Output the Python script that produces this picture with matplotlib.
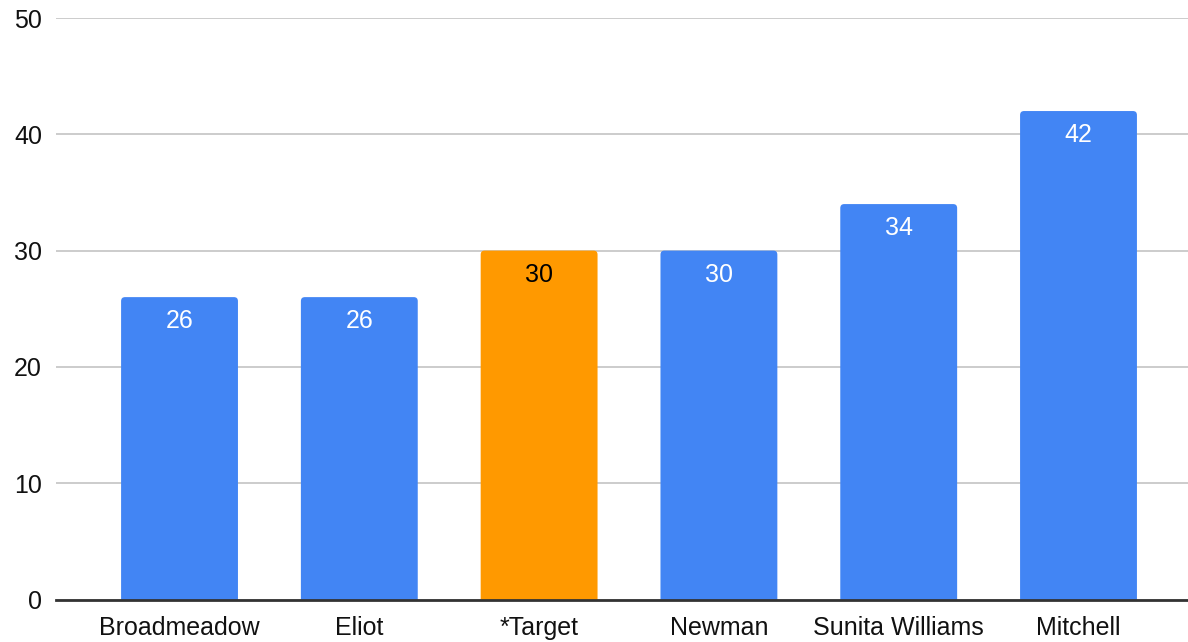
import matplotlib.pyplot as plt
from matplotlib.patches import FancyBboxPatch

# data
schools = ['Broadmeadow', 'Eliot', '*Target', 'Newman', 'Sunita Williams', 'Mitchell']
scores = [26, 26, 30, 30, 34, 42]
colors = ['#4285F4', '#4285F4', '#FF9900', '#4285F4', '#4285F4', '#4285F4']
label_colors = ['white', 'white', 'black', 'white', 'white', 'white']

plt.rcParams['font.family'] = ['Liberation Sans', 'DejaVu Sans']

fig = plt.figure(figsize=(11.88, 6.42), dpi=100)
ax = fig.add_axes([56/1188, 1 - 599.5/642, 1 - 56/1188, (599.5 - 18)/642])

x = list(range(len(schools)))
bars = ax.bar(x, scores, width=0.65, color=colors, zorder=3)

# rounded top corners: swap each bar rectangle for a rounded box
for b in bars:
    bx, by, bw, bh = b.get_x(), b.get_y(), b.get_width(), b.get_height()
    rb = FancyBboxPatch((bx, by - 1), bw, bh + 1,
                        boxstyle='round,pad=0,rounding_size=0.022',
                        mutation_aspect=15.6,
                        facecolor=b.get_facecolor(), edgecolor='none', zorder=3)
    b.set_visible(False)
    ax.add_patch(rb)

for b, v, c in zip(bars, scores, label_colors):
    ax.annotate(str(v), (b.get_x() + b.get_width()/2, v),
                xytext=(0, -17.3), textcoords='offset points',
                ha='center', va='center', fontsize=18, color=c, zorder=4)

ax.set_ylim(0, 50)
ax.set_yticks([0, 10, 20, 30, 40, 50])
ax.set_xlim(-0.687, 5.609)
ax.set_xticks(x)
ax.set_xticklabels(schools)
ax.tick_params(axis='both', length=0, labelsize=18, colors='#111111')
ax.tick_params(axis='y', pad=10)
ax.tick_params(axis='x', pad=12)

ax.grid(axis='y', color='#cccccc', linewidth=1.4, zorder=0)
for s in ['top', 'right', 'left']:
    ax.spines[s].set_visible(False)
ax.spines['bottom'].set_color('#333333')
ax.spines['bottom'].set_linewidth(2)
ax.spines['bottom'].set_zorder(5)

fig.savefig('out.png', dpi=100)
